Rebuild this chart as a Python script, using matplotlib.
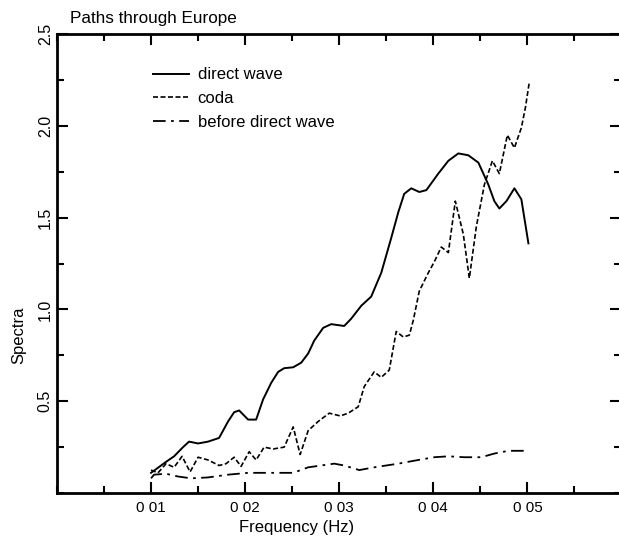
import matplotlib
matplotlib.use("Agg")
import matplotlib.pyplot as plt
from matplotlib.ticker import MultipleLocator, FixedLocator
import numpy as np

plt.rcParams['font.family'] = ['Liberation Sans', 'DejaVu Sans']

# direct wave (solid)
freq_direct = [0.0100, 0.0116, 0.01245, 0.0134, 0.01404, 0.0150, 0.01606, 0.01723, 0.01819,
               0.01883, 0.01936, 0.02032, 0.02117, 0.02191, 0.02277, 0.02351, 0.02415, 0.02511,
               0.02596, 0.0267, 0.02734, 0.0283, 0.02915, 0.03053, 0.03128, 0.03234, 0.0334,
               0.03447, 0.03553, 0.03628, 0.03691, 0.03766, 0.03851, 0.03926, 0.04053, 0.0416,
               0.04266, 0.04372, 0.04479, 0.04585, 0.04649, 0.04702, 0.04777, 0.04862, 0.04936,
               0.05011]
spec_direct = [0.11, 0.17, 0.20, 0.25, 0.28, 0.27, 0.28, 0.30, 0.39,
               0.44, 0.45, 0.40, 0.40, 0.51, 0.60, 0.66, 0.68, 0.685,
               0.71, 0.76, 0.83, 0.90, 0.92, 0.91, 0.95, 1.02, 1.07,
               1.20, 1.39, 1.53, 1.63, 1.66, 1.64, 1.65, 1.74, 1.81,
               1.85, 1.84, 1.80, 1.68, 1.59, 1.55, 1.59, 1.66, 1.60,
               1.36]

# coda (dashed)
freq_coda = [0.0100, 0.01074, 0.0116, 0.01245, 0.0133, 0.01415, 0.0150, 0.01606, 0.01723,
             0.01798, 0.01883, 0.01957, 0.02043, 0.02117, 0.02202, 0.02298, 0.02415, 0.02511,
             0.02585, 0.0267, 0.02777, 0.02894, 0.03011, 0.03096, 0.03202, 0.03266, 0.03372,
             0.03447, 0.03532, 0.03606, 0.03681, 0.03745, 0.03787, 0.03851, 0.03947, 0.04011,
             0.04085, 0.0416, 0.04234, 0.04319, 0.04383, 0.04457, 0.04543, 0.04628, 0.04702,
             0.04787, 0.04862, 0.04936, 0.04979, 0.05021]
spec_coda = [0.125, 0.11, 0.16, 0.14, 0.20, 0.115, 0.195, 0.18, 0.15,
             0.16, 0.195, 0.145, 0.225, 0.18, 0.25, 0.24, 0.25, 0.36,
             0.21, 0.34, 0.39, 0.435, 0.42, 0.435, 0.47, 0.58, 0.66,
             0.63, 0.67, 0.88, 0.85, 0.86, 0.94, 1.10, 1.20, 1.26,
             1.34, 1.31, 1.59, 1.41, 1.17, 1.45, 1.68, 1.81, 1.74,
             1.95, 1.88, 1.99, 2.10, 2.24]

# before direct wave (dash-dot)
freq_before = [0.0100, 0.01032, 0.0116, 0.01287, 0.01426, 0.01606, 0.01819, 0.02032, 0.02245,
               0.02511, 0.0267, 0.02809, 0.02947, 0.03053, 0.03213, 0.03372, 0.03628, 0.03840,
               0.0401, 0.0416, 0.0433, 0.0451, 0.04649, 0.04798, 0.04989]
spec_before = [0.08, 0.10, 0.105, 0.09, 0.08, 0.085, 0.10, 0.11, 0.11,
               0.11, 0.14, 0.15, 0.16, 0.15, 0.125, 0.14, 0.16, 0.18,
               0.195, 0.20, 0.195, 0.195, 0.215, 0.23, 0.23]

xtick_vals = [0.01, 0.02, 0.03, 0.04, 0.05]
xtick_labels = ["0 01", "0 02", "0 03", "0 04", "0 05"]
ytick_vals = [0.5, 1.0, 1.5, 2.0, 2.5]

fig = plt.figure(figsize=(6.19, 5.38), dpi=100)
ax = fig.add_axes([0.092, 0.0836, 0.912, 0.853])

ax.plot(freq_direct, spec_direct, color='black', lw=1.4, label='direct wave')
ax.plot(freq_coda, spec_coda, color='black', lw=1.2, linestyle=(0, (3, 1.5)), label='coda')
ax.plot(freq_before, spec_before, color='black', lw=1.3, linestyle=(0, (7, 3, 1.5, 3)),
        label='before direct wave')

ax.set_xlim(0, 0.06)
ax.set_ylim(0, 2.5)

ax.xaxis.set_major_locator(FixedLocator(xtick_vals))
ax.set_xticklabels(xtick_labels, fontsize=11)
ax.xaxis.set_minor_locator(MultipleLocator(0.005))
ax.yaxis.set_major_locator(FixedLocator(ytick_vals))
ax.set_yticklabels([f"{v:.1f}" for v in ytick_vals], fontsize=11.5, rotation=90, va='center')
ax.yaxis.set_minor_locator(MultipleLocator(0.25))

ax.tick_params(which='both', direction='in', top=True, right=True, width=1.5)
ax.tick_params(which='major', length=8)
ax.tick_params(which='minor', length=5)
ax.tick_params(axis='x', which='major', pad=6)
ax.tick_params(axis='y', which='major', pad=3)
for s in ax.spines.values():
    s.set_linewidth(2)
ax.spines['right'].set_visible(False)

fig.text(0.113, 0.958, "Paths through Europe", fontsize=12.3)
fig.text(0.03, 0.377, "Spectra", rotation=90, fontsize=12, ha='center', va='center')
fig.text(0.479, 0.02, "Frequency (Hz)", fontsize=12, ha='center', va='center')

leg = ax.legend(loc='upper left', bbox_to_anchor=(0.143, 0.96), frameon=False, fontsize=12,
                handlelength=2.2, handletextpad=0.5, labelspacing=0.52)

fig.savefig("out.png", dpi=100)
